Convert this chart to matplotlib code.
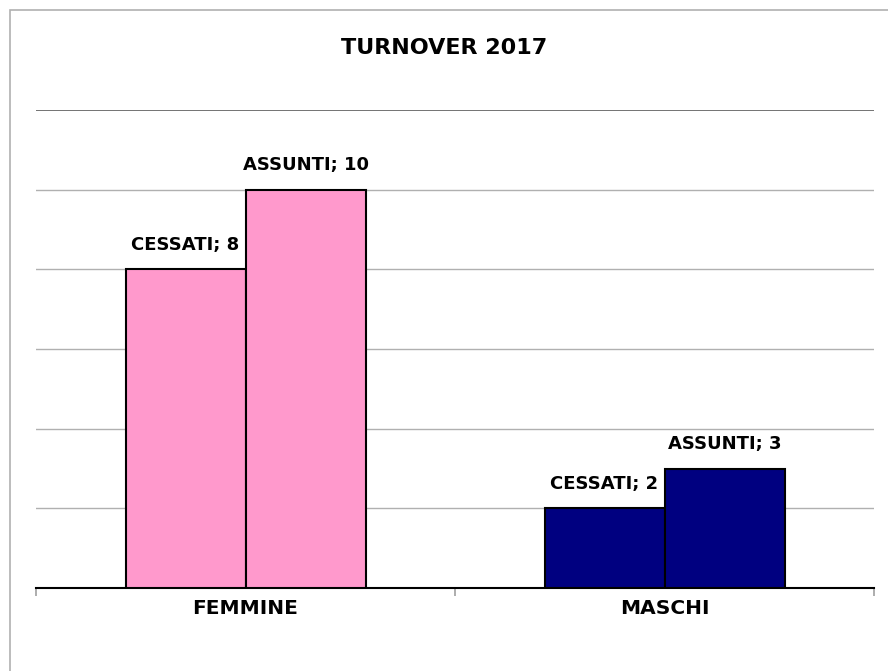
import matplotlib
matplotlib.use("Agg")
import matplotlib.pyplot as plt
import numpy as np
from matplotlib.patches import Rectangle

# Data
categories = ['FEMMINE', 'MASCHI']
series_names = ['CESSATI', 'ASSUNTI']
cessati = [8, 2]
assunti = [10, 3]
bar_colors = ['#FF99CC', '#000080']

plt.rcParams['font.family'] = ['DejaVu Sans']

fig = plt.figure(figsize=(8.88, 6.71), dpi=100)
ax = fig.add_axes([36 / 888, 1 - 588 / 671, 838 / 888, 478 / 671])

# outer chart border
fig.patches.append(Rectangle((10 / 888, -0.1), 1.2, 1 - 10 / 671 + 0.1,
                             transform=fig.transFigure, fill=False,
                             edgecolor='#B0B0B0', linewidth=1.2, zorder=0))

x = np.arange(len(categories))
w = 120 / 419
ax.set_xlim(-0.5, 1.5)
ax.set_ylim(0, 12)

for i, c in enumerate(categories):
    for j, (name, vals) in enumerate(zip(series_names, [cessati, assunti])):
        xpos = x[i] + (j - 0.5) * w
        ax.bar(xpos, vals[i], width=w, color=bar_colors[i], edgecolor='black',
               linewidth=1.5, zorder=3)
        ax.annotate(f'{name}; {vals[i]}', (xpos, vals[i]), xytext=(0, 11),
                    textcoords='offset points', ha='center', va='bottom',
                    fontsize=13, fontweight='bold')

# gridlines
for v in [2, 4, 6, 8, 10]:
    ax.axhline(v, color='#B0B0B0', linewidth=1, zorder=1)
ax.axhline(12, color='#686868', linewidth=1.3, zorder=1)

for s in ['top', 'right', 'left']:
    ax.spines[s].set_visible(False)
ax.spines['bottom'].set_linewidth(1.5)
ax.spines['bottom'].set_color('black')
ax.set_yticks([])

# category separator ticks
ax.set_xticks([-0.5, 0.5, 1.5])
ax.set_xticklabels([])
ax.tick_params(axis='x', length=6, width=1.2, color='#A0A0A0', direction='out')
for i, c in enumerate(categories):
    ax.text(x[i], -0.52, c, ha='center', va='center', fontsize=14.5,
            fontweight='bold')

fig.text(444 / 888, 1 - 48 / 671, 'TURNOVER 2017', ha='center', va='center',
         fontsize=16, fontweight='bold')

fig.savefig('out.png', dpi=100)
